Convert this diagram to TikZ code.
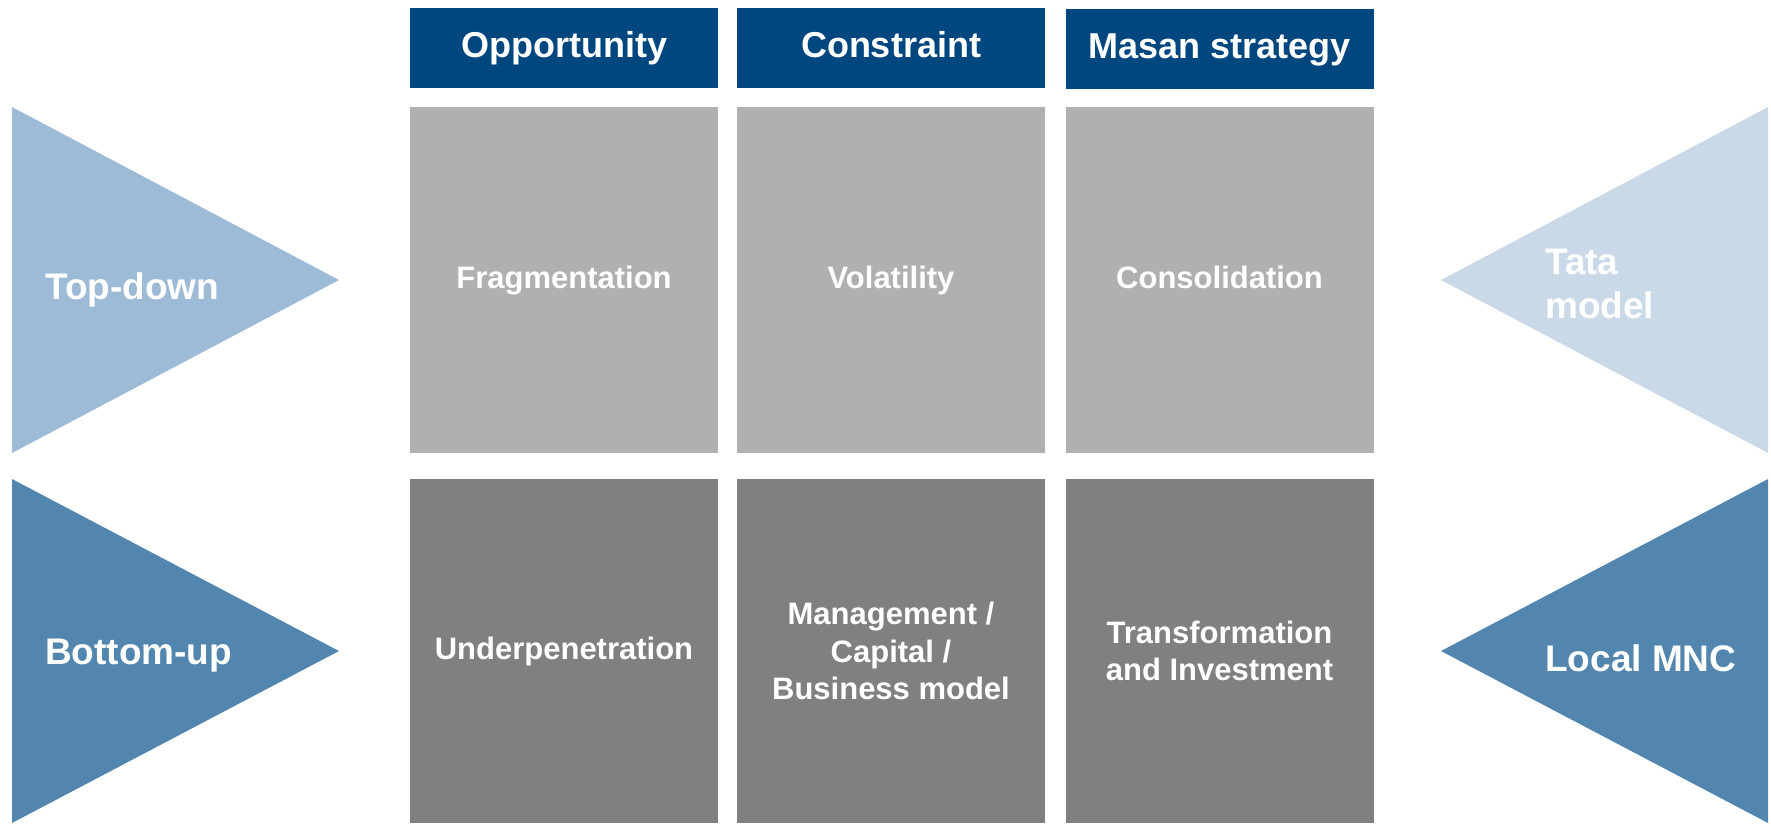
\documentclass[tikz,border=0pt]{standalone}
\usepackage{fontspec}
\setmainfont{Liberation Sans}
\definecolor{hdrblue}{HTML}{00467F}
\definecolor{lightgray}{HTML}{B0B0B0}
\definecolor{darkgray}{HTML}{808080}
\definecolor{triA}{HTML}{9DBAD6}
\definecolor{triB}{HTML}{5386AF}
\definecolor{triC}{HTML}{C9D9E8}
\begin{document}
\begin{tikzpicture}[x=1pt,y=-1pt,
  hdrbox/.style={fill=hdrblue, text=white, inner sep=0pt, minimum width=308pt, minimum height=80pt, text height=27pt, text depth=8pt, font=\fontsize{36}{40}\selectfont\bfseries},
  topbox/.style={fill=lightgray, text=white, inner sep=0pt, minimum width=308pt, minimum height=346pt, text height=23pt, text depth=7pt, font=\fontsize{31}{37}\selectfont\bfseries},
  botbox/.style={fill=darkgray, text=white, inner sep=0pt, minimum width=308pt, minimum height=344pt, align=center, font=\fontsize{31}{37.5}\selectfont\bfseries},
  trilabel/.style={text=white, inner sep=0pt, align=left, font=\fontsize{37}{44}\selectfont\bfseries}
]
\useasboundingbox (0,0) rectangle (1771,823);
% triangles
\fill[triA] (12,107) -- (339,280) -- (12,453) -- cycle;
\fill[triB] (12,479) -- (339,651) -- (12,823) -- cycle;
\fill[triC] (1768,107) -- (1441,280) -- (1768,453) -- cycle;
\fill[triB] (1768,479) -- (1441,651) -- (1768,823) -- cycle;
% headers
\node[hdrbox] (h1) at (564,48) {Opportunity};
\node[hdrbox] (h2) at (891,48) {Constraint};
\node[hdrbox] (h3) at (1219.5,49) {Masan strategy};
% top row
\node[topbox] (t1) at (564,280) {Fragmentation};
\node[topbox] (t2) at (891,280) {Volatility};
\node[topbox] (t3) at (1219.5,280) {Consolidation};
% bottom row
\node[botbox] (b1) at (564,651) {Underpenetration};
\node[botbox] (b2) at (891,651) {Management /\\Capital /\\Business model};
\node[botbox] (b3) at (1219.5,651) {Transformation\\and Investment};
% triangle labels
\node[trilabel, anchor=base west] (l1) at (45,299) {Top-down};
\node[trilabel, anchor=base west] (l2) at (45,664) {Bottom-up};
\node[trilabel, anchor=north west] (r1) at (1545,249) {Tata\\model};
\node[trilabel, anchor=base west] (r2) at (1545,671) {Local MNC};
\end{tikzpicture}
\end{document}
